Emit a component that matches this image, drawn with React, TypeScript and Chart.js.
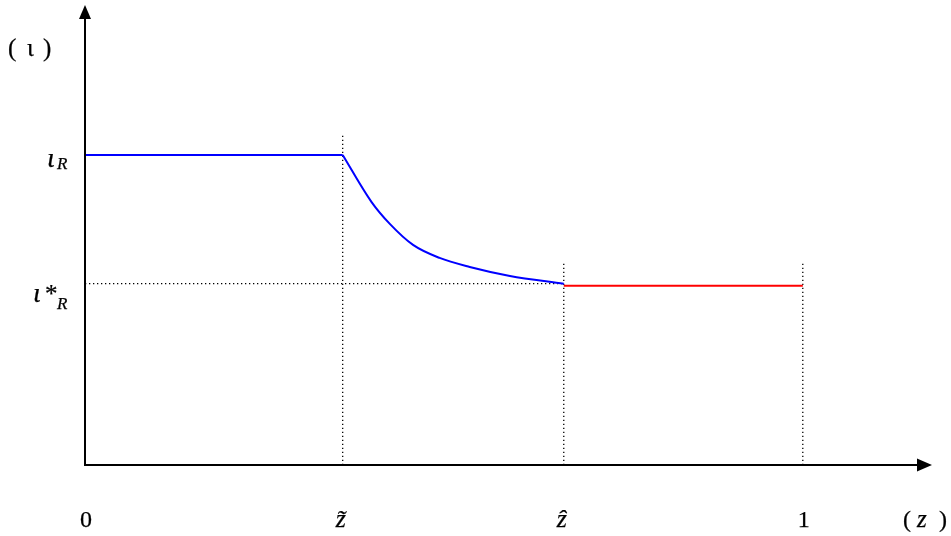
import React, { useEffect, useRef } from "react";
import { Chart, registerables } from "chart.js";

Chart.register(...registerables);

// Axis extents (in data units)
const xMax = 1.18;
const yMax = 1.484;

// Key positions
const zTilde = 0.359;
const zHat = 0.667;
const zOne = 1.0;
const iotaR = 1.0;
const iotaStarR = 0.585;

// Series
const flatX = [0, 0.359];
const flatY = [1.0, 1.0];
const curveX = [0.359, 0.399, 0.425, 0.457, 0.494, 0.536, 0.592, 0.667];
const curveY = [1.0, 0.849, 0.777, 0.71, 0.668, 0.639, 0.61, 0.585];
const redX = [0.667, 1.0];
const redY = [0.578, 0.578];

// Guide (dotted) line tops
const tildeGuideTop = 1.071;
const hatGuideTop = 0.655;
const oneGuideTop = 0.655;

// Tick labels
const xTickValues = [0, zTilde, zHat, zOne];
const xTickLabels = ["0", "z\u0303", "z\u0302", "1"];
const iota = "\u03B9";
const xAxisTitle = "z";

const SERIF = `"Liberation Serif"`;

function pts(xs: number[], ys: number[]) {
  return xs.map((x, i) => ({ x, y: ys[i] }));
}

function txt(ctx: CanvasRenderingContext2D, s: string, x: number, y: number, font: string) {
  ctx.font = font;
  ctx.fillText(s, x, y);
  ctx.strokeText(s, x, y);
}

export default function App() {
  const ref = useRef<HTMLCanvasElement | null>(null);

  useEffect(() => {
    document.body.style.margin = "0";
    const canvas = ref.current;
    if (!canvas) return;

    const dotted = {
      borderColor: "#000",
      borderWidth: 1.3,
      borderDash: [1.3, 2.7],
      pointRadius: 0,
      showLine: true,
      fill: false,
      clip: false as any,
      order: 5,
    };

    const overlay = {
      id: "overlay",
      afterDraw(chart: any) {
        const ctx = chart.ctx as CanvasRenderingContext2D;
        const xs = chart.scales.x;
        const ys = chart.scales.y;
        const x0 = xs.getPixelForValue(0);
        const y0 = ys.getPixelForValue(0);
        const xEnd = xs.getPixelForValue(xMax);
        const yEnd = ys.getPixelForValue(yMax);
        ctx.save();
        // axes
        ctx.strokeStyle = "#000";
        ctx.fillStyle = "#000";
        ctx.lineWidth = 2;
        ctx.setLineDash([]);
        ctx.beginPath();
        ctx.moveTo(x0, y0);
        ctx.lineTo(x0, yEnd + 12);
        ctx.moveTo(x0 - 1, y0);
        ctx.lineTo(xEnd - 12, y0);
        ctx.stroke();
        // arrow heads
        ctx.beginPath();
        ctx.moveTo(x0, yEnd);
        ctx.lineTo(x0 - 6, yEnd + 14);
        ctx.lineTo(x0 + 6, yEnd + 14);
        ctx.closePath();
        ctx.fill();
        ctx.beginPath();
        ctx.moveTo(xEnd, y0);
        ctx.lineTo(xEnd - 15, y0 - 6.5);
        ctx.lineTo(xEnd - 15, y0 + 6.5);
        ctx.closePath();
        ctx.fill();

        ctx.lineWidth = 0.25;
        ctx.textBaseline = "alphabetic";
        ctx.textAlign = "left";

        // y axis title "( ι )"
        txt(ctx, "(", 8, 56, `25px ${SERIF}`);
        txt(ctx, iota, 27, 56, `25px ${SERIF}`);
        txt(ctx, ")", 43, 56, `25px ${SERIF}`);

        // iota_R
        const yR = ys.getPixelForValue(iotaR);
        txt(ctx, iota, 47, yR + 12, `italic 28px ${SERIF}`);
        txt(ctx, "R", 57, yR + 14, `italic 17px ${SERIF}`);

        // iota*_R
        const yS = ys.getPixelForValue(iotaStarR);
        txt(ctx, iota, 33, yS + 18, `italic 28px ${SERIF}`);
        txt(ctx, "*", 45, yS + 18, `25px ${SERIF}`);
        txt(ctx, "R", 57, yS + 25, `italic 17px ${SERIF}`);

        // x tick labels
        ctx.textAlign = "center";
        xTickValues.forEach((v, i) => {
          const px = xs.getPixelForValue(v);
          const lab = xTickLabels[i];
          if (/^[0-9]+$/.test(lab)) {
            txt(ctx, lab, px + 1, 527, `24px ${SERIF}`);
          } else {
            txt(ctx, lab, px - 2, 527, `italic 26px ${SERIF}`);
          }
        });

        // x axis title "( z )"
        ctx.textAlign = "left";
        txt(ctx, "(", 903, 527, `24px ${SERIF}`);
        txt(ctx, ")", 939, 527, `24px ${SERIF}`);
        txt(ctx, xAxisTitle, 917, 527, `italic 25px ${SERIF}`);
        ctx.restore();
      },
    };

    const chart = new Chart(canvas, {
      type: "scatter",
      data: {
        datasets: [
          {
            data: pts(flatX, flatY),
            borderColor: "#0000ff",
            borderWidth: 2,
            pointRadius: 0,
            showLine: true,
            fill: false,
            clip: false as any,
            order: 1,
          },
          {
            data: pts(curveX, curveY),
            borderColor: "#0000ff",
            borderWidth: 2,
            pointRadius: 0,
            showLine: true,
            fill: false,
            cubicInterpolationMode: "monotone",
            clip: false as any,
            order: 1,
          },
          {
            data: pts(redX, redY),
            borderColor: "#ff0000",
            borderWidth: 2,
            pointRadius: 0,
            showLine: true,
            fill: false,
            clip: false as any,
            order: 1,
          },
          { ...dotted, data: pts([zTilde, zTilde], [0, tildeGuideTop]) },
          { ...dotted, data: pts([zHat, zHat], [0, hatGuideTop]) },
          { ...dotted, data: pts([zOne, zOne], [0, oneGuideTop]) },
          { ...dotted, data: pts([0, zHat], [iotaStarR, iotaStarR]) },
        ] as any,
      },
      options: {
        responsive: false,
        animation: false,
        layout: { padding: { left: 85, right: 19, top: 5, bottom: 71 } },
        plugins: {
          legend: { display: false },
          tooltip: { enabled: false },
        },
        scales: {
          x: { type: "linear", min: 0, max: xMax, display: false },
          y: { type: "linear", min: 0, max: yMax, display: false },
        },
      },
      plugins: [overlay],
    });

    let alive = true;
    const fonts = (document as any).fonts;
    if (fonts && fonts.ready) {
      fonts.ready.then(() => {
        if (alive) chart.draw();
      });
    }

    return () => {
      alive = false;
      chart.destroy();
    };
  }, []);

  return (
    <canvas
      ref={ref}
      width={951}
      height={536}
      style={{ display: "block", width: 951, height: 536 }}
    />
  );
}
